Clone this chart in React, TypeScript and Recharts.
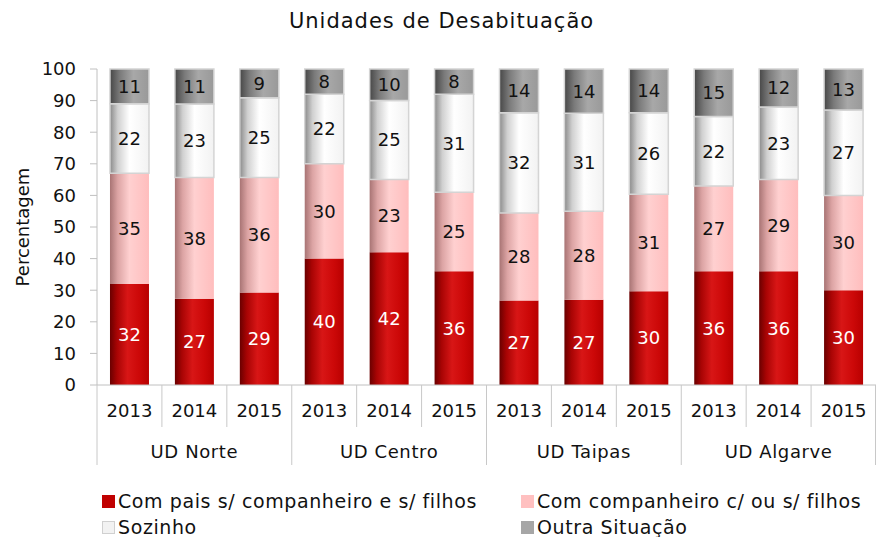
import React from 'react';
import { BarChart, Bar, XAxis, YAxis, LabelList, Legend } from 'recharts';

const years = ['2013', '2014', '2015', '2013', '2014', '2015', '2013', '2014', '2015', '2013', '2014', '2015'];
const groupOfRow = ['UD Norte', 'UD Norte', 'UD Norte', 'UD Centro', 'UD Centro', 'UD Centro', 'UD Taipas', 'UD Taipas', 'UD Taipas', 'UD Algarve', 'UD Algarve', 'UD Algarve'];
const comPais = [32, 27, 29, 40, 42, 36, 27, 27, 30, 36, 36, 30];
const comCompanheiro = [35, 38, 36, 30, 23, 25, 28, 28, 31, 27, 29, 30];
const sozinho = [22, 23, 25, 22, 25, 31, 32, 31, 26, 22, 23, 27];
const outra = [11, 11, 9, 8, 10, 8, 14, 14, 14, 15, 12, 13];
const yTicks = [0, 0.1, 0.2, 0.3, 0.4, 0.5, 0.6, 0.7, 0.8, 0.9, 1];

const seriesNames = [
  'Com pais s/ companheiro e s/ filhos',
  'Com companheiro c/ ou s/ filhos',
  'Sozinho',
  'Outra Situação',
];
const legendColors = ['#c00000', '#ffc0c0', '#f2f2f2', '#a6a6a6'];

const data = years.map((y, i) => ({
  year: y,
  group: groupOfRow[i],
  s1: comPais[i],
  s2: comCompanheiro[i],
  s3: sozinho[i],
  s4: outra[i],
}));

const FONT = 'DejaVu Sans';
const BAND_HALF = 780 / 12 / 2;

function YearTick(props: any) {
  const { x, y, payload, index } = props;
  const half = payload && typeof payload.offset === 'number' && payload.offset > 0 ? payload.offset : BAND_HALF;
  const i = typeof index === 'number' ? index : payload.index;
  const left = x - half;
  const right = x + half;
  const isGroupStart = i % 3 === 0;
  const isLast = i === years.length - 1;
  return (
    <g>
      <line x1={left} y1={y} x2={left} y2={y + (isGroupStart ? 80 : 42)} stroke="#c8c8c8" strokeWidth={1} />
      {isLast && <line x1={right - 0.5} y1={y} x2={right - 0.5} y2={y + 80} stroke="#c8c8c8" strokeWidth={1} />}
      <text x={x} y={y + 32} textAnchor="middle" fontSize={18} fontFamily={FONT} fill="#111">
        {payload.value}
      </text>
      {i % 3 === 1 && (
        <text x={x} y={y + 73} textAnchor="middle" fontSize={18} fontFamily={FONT} fill="#111" letterSpacing={0.6}>
          {groupOfRow[i]}
        </text>
      )}
    </g>
  );
}

function YLabel(props: any) {
  const { viewBox } = props;
  const cx = viewBox.x + 22;
  const cy = viewBox.y + viewBox.height / 2;
  return (
    <text x={cx} y={cy} transform={`rotate(-90, ${cx}, ${cy})`} textAnchor="middle" dominantBaseline="central" fontSize={18} fontFamily={FONT} fill="#111">
      Percentagem
    </text>
  );
}

function LegendContent() {
  return (
    <div style={{ display: 'grid', gridTemplateColumns: '419px 360px', rowGap: 2, fontFamily: FONT, fontSize: 19, letterSpacing: 0.6, color: '#111' }}>
      {seriesNames.map((n, i) => (
        <div key={n} style={{ display: 'flex', alignItems: 'center', whiteSpace: 'nowrap', height: 24 }}>
          <span
            style={{
              display: 'inline-block',
              width: 13,
              height: 13,
              background: legendColors[i],
              border: i === 2 ? '1px solid #d0d0d0' : 'none',
              boxSizing: 'border-box',
              marginRight: 3,
            }}
          />
          <span>{n}</span>
        </div>
      ))}
    </div>
  );
}

export default function App() {
  return (
    <div style={{ position: 'absolute', left: 0, top: 0, width: 877, height: 537, background: '#fff' }}>
      <div
        style={{
          position: 'absolute',
          left: 0,
          top: 9,
          width: 877,
          textAlign: 'center',
          fontFamily: FONT,
          fontSize: 21,
          letterSpacing: 1,
          color: '#111',
          paddingLeft: 3,
        }}
      >
        Unidades de Desabituação
      </div>
      <BarChart
        width={877}
        height={537}
        data={data}
        stackOffset="expand"
        barCategoryGap="20%"
        margin={{ top: 69, right: 1, left: 0, bottom: 72 }}
      >
        <defs>
          <linearGradient id="g1" x1="0" y1="0" x2="1" y2="0">
            <stop offset="0%" stopColor="#6a0000" />
            <stop offset="18%" stopColor="#a80404" />
            <stop offset="45%" stopColor="#d81616" />
            <stop offset="75%" stopColor="#cc0808" />
            <stop offset="100%" stopColor="#b80000" />
          </linearGradient>
          <linearGradient id="g2" x1="0" y1="0" x2="1" y2="0">
            <stop offset="0%" stopColor="#a87474" />
            <stop offset="20%" stopColor="#dca4a4" />
            <stop offset="50%" stopColor="#ffd0d0" />
            <stop offset="100%" stopColor="#ffbdbd" />
          </linearGradient>
          <linearGradient id="g3" x1="0" y1="0" x2="1" y2="0">
            <stop offset="0%" stopColor="#8a8a8a" />
            <stop offset="20%" stopColor="#d0d0d0" />
            <stop offset="50%" stopColor="#ffffff" />
            <stop offset="100%" stopColor="#f2f2f2" />
          </linearGradient>
          <linearGradient id="g4" x1="0" y1="0" x2="1" y2="0">
            <stop offset="0%" stopColor="#474747" />
            <stop offset="25%" stopColor="#7a7a7a" />
            <stop offset="60%" stopColor="#a8a8a8" />
            <stop offset="100%" stopColor="#999999" />
          </linearGradient>
        </defs>
        <XAxis
          dataKey="year"
          interval={0}
          height={80}
          tickLine={false}
          tickSize={0}
          tickMargin={0}
          axisLine={{ stroke: '#c0c0c0' }}
          tick={<YearTick />}
        />
        <YAxis
          width={97}
          domain={[0, 1]}
          ticks={yTicks}
          interval={0}
          tickFormatter={(v: number) => String(Math.round(v * 100))}
          axisLine={{ stroke: '#c0c0c0' }}
          tickLine={{ stroke: '#c0c0c0' }}
          tickSize={7}
          tickMargin={14}
          tick={{ fontSize: 18, fontFamily: FONT, fill: '#111' }}
          label={<YLabel />}
        />
        <Legend
          layout="horizontal"
          verticalAlign="middle"
          align="center"
          wrapperStyle={{ top: 489, left: 102, width: 775, height: 52 }}
          content={<LegendContent />}
        />
        <Bar dataKey="s1" name={seriesNames[0]} stackId="a" fill="url(#g1)" isAnimationActive={false}>
          <LabelList dataKey="s1" position="center" fill="#ffffff" fontSize={18} fontFamily={FONT} />
        </Bar>
        <Bar dataKey="s2" name={seriesNames[1]} stackId="a" fill="url(#g2)" isAnimationActive={false}>
          <LabelList dataKey="s2" position="center" fill="#111" fontSize={18} fontFamily={FONT} />
        </Bar>
        <Bar dataKey="s3" name={seriesNames[2]} stackId="a" fill="url(#g3)" stroke="#d4d4d4" strokeWidth={1.5} isAnimationActive={false}>
          <LabelList dataKey="s3" position="center" fill="#111" fontSize={18} fontFamily={FONT} stroke="none" />
        </Bar>
        <Bar dataKey="s4" name={seriesNames[3]} stackId="a" fill="url(#g4)" stroke="#d4d4d4" strokeWidth={1.5} isAnimationActive={false}>
          <LabelList dataKey="s4" position="center" fill="#111" fontSize={18} fontFamily={FONT} stroke="none" />
        </Bar>
      </BarChart>
    </div>
  );
}
